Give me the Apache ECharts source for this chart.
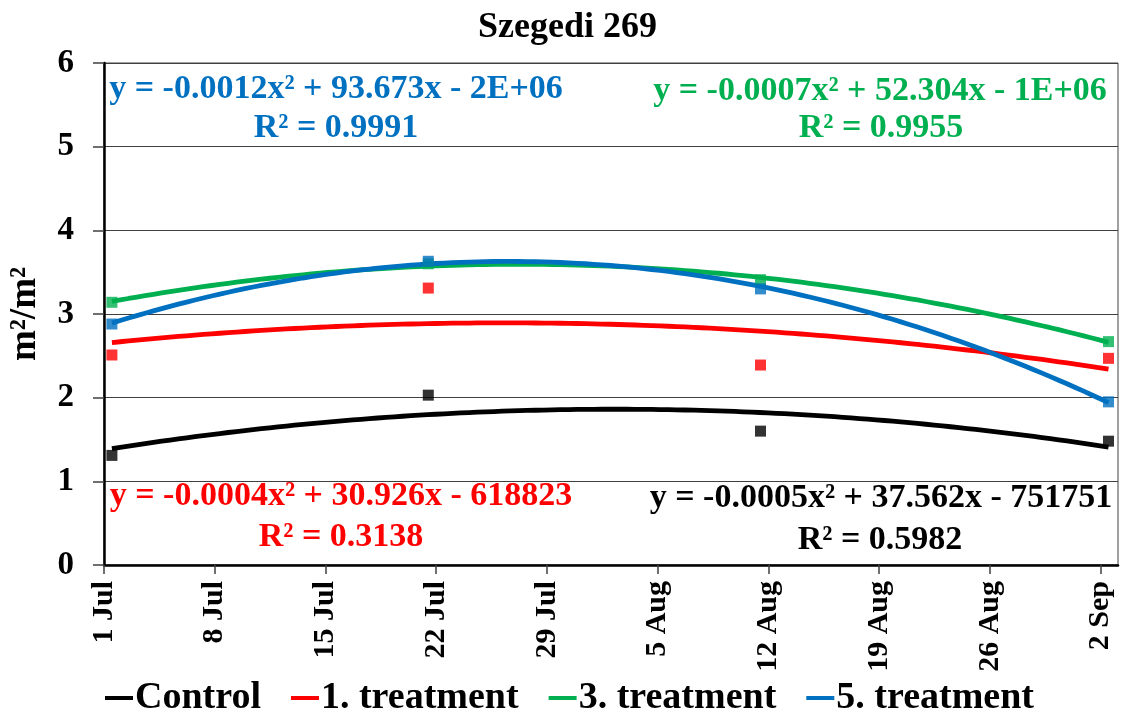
<!DOCTYPE html>
<html>
<head>
<meta charset="utf-8">
<script src="https://cdn.jsdelivr.net/npm/echarts@6/dist/echarts.min.js"></script>
<style>
  html, body { margin: 0; padding: 0; background: #fff; }
  #chart { width: 1135px; height: 713px; }
</style>
</head>
<body>
<div id="chart"></div>
<script>
// Sampling days, counted from 1 July
const sampleDays = [0, 20, 41, 63];
// Leaf area index (m²/m²) per treatment
const control = [1.31, 2.03, 1.60, 1.48];
const treatment1 = [2.51, 3.31, 2.39, 2.47];
const treatment3 = [3.14, 3.60, 3.41, 2.67];
const treatment5 = [2.88, 3.63, 3.30, 1.95];

// Weekly x-axis ticks (days from 1 July) and their labels
const tickDays = [0, 7, 14, 21, 28, 35, 42, 49, 56, 63];
const tickLabels = ['1 Jul', '8 Jul', '15 Jul', '22 Jul', '29 Jul', '5 Aug', '12 Aug', '19 Aug', '26 Aug', '2 Sep'];

const seriesNames = ['Control', '1. treatment', '3. treatment', '5. treatment'];
const seriesColors = ['#000000', '#FF0000', '#00B050', '#0070C0'];
const seriesValues = [control, treatment1, treatment3, treatment5];

// Trend-line labels (polynomial, order 2)
const equations = [
  'y = -0.0005x² + 37.562x - 751751',
  'y = -0.0004x² + 30.926x - 618823',
  'y = -0.0007x² + 52.304x - 1E+06',
  'y = -0.0012x² + 93.673x - 2E+06'
];
const rSquared = ['R² = 0.5982', 'R² = 0.3138', 'R² = 0.9955', 'R² = 0.9991'];

// Each date sits in the middle of its day slot on the date axis
const xPos = sampleDays.map(d => d + 0.5);

// Least-squares quadratic fit y = a + b x + c x²
function quadFit(xs, ys) {
  const S = [0, 0, 0, 0, 0], T = [0, 0, 0];
  for (let i = 0; i < xs.length; i++) {
    let p = 1;
    for (let k = 0; k < 5; k++) { S[k] += p; if (k < 3) T[k] += p * ys[i]; p *= xs[i]; }
  }
  const M = [[S[0], S[1], S[2], T[0]], [S[1], S[2], S[3], T[1]], [S[2], S[3], S[4], T[2]]];
  for (let i = 0; i < 3; i++) {
    for (let j = i + 1; j < 3; j++) {
      const f = M[j][i] / M[i][i];
      for (let k = i; k < 4; k++) M[j][k] -= f * M[i][k];
    }
  }
  const c = [0, 0, 0];
  for (let i = 2; i >= 0; i--) {
    let s = M[i][3];
    for (let k = i + 1; k < 3; k++) s -= M[i][k] * c[k];
    c[i] = s / M[i][i];
  }
  return c;
}

function trendPoints(values) {
  const c = quadFit(xPos, values);
  const x0 = xPos[0], x1 = xPos[xPos.length - 1];
  const pts = [];
  const n = 120;
  for (let i = 0; i <= n; i++) {
    const x = x0 + (x1 - x0) * i / n;
    pts.push([x, c[0] + c[1] * x + c[2] * x * x]);
  }
  return pts;
}

const FONT = '"Liberation Serif", "Times New Roman", serif';

const series = [];
seriesNames.forEach((name, i) => {
  series.push({
    name: name,
    type: 'line',
    data: trendPoints(seriesValues[i]),
    showSymbol: false,
    symbol: 'none',
    smooth: false,
    lineStyle: { color: seriesColors[i], width: 4.8 },
    itemStyle: { color: seriesColors[i] },
    z: 2 + i,
    silent: true
  });
});
seriesNames.forEach((name, i) => {
  series.push({
    name: name,
    type: 'scatter',
    data: xPos.map((x, k) => [x, seriesValues[i][k]]),
    symbol: 'rect',
    symbolSize: 11,
    itemStyle: { color: seriesColors[i] },
    z: 10 + i
  });
});

function eqText(text, x, y, color) {
  return {
    type: 'text',
    x: x, y: y,
    style: {
      text: text,
      fill: color,
      font: 'bold 34px ' + FONT,
      align: 'center',
      verticalAlign: 'middle'
    },
    z: 100
  };
}

const option = {
  backgroundColor: '#ffffff',
  animation: false,
  title: {
    text: 'Szegedi 269',
    left: 'center',
    top: 5,
    textStyle: { fontFamily: FONT, fontWeight: 'bold', fontSize: 36, color: '#000' }
  },
  grid: {
    left: 104, right: 17, top: 63, bottom: 148,
    outerBoundsMode: 'none',
    containLabel: false,
    show: true,
    borderColor: '#404040',
    borderWidth: 1
  },
  xAxis: {
    type: 'value',
    min: 0,
    max: 64.1,
    axisLine: { show: true, onZero: false, lineStyle: { color: '#000', width: 2.5 } },
    axisTick: {
      show: true, inside: false, length: 9,
      customValues: tickDays,
      lineStyle: { color: '#404040', width: 1.5 }
    },
    splitLine: { show: false },
    axisLabel: {
      customValues: tickDays,
      rotate: 90,
      margin: 16,
      fontFamily: FONT,
      fontWeight: 'bold',
      fontSize: 30,
      color: '#000',
      formatter: v => tickLabels[tickDays.indexOf(Math.round(v))] || ''
    }
  },
  yAxis: {
    type: 'value',
    min: 0, max: 6, interval: 1,
    name: 'm²/m²',
    nameLocation: 'middle',
    nameGap: 60,
    nameRotate: 90,
    nameMoveOverlap: false,
    nameTextStyle: { fontFamily: FONT, fontWeight: 'bold', fontSize: 37, color: '#000' },
    axisLine: { show: true, lineStyle: { color: '#000', width: 2.5 } },
    axisTick: { show: true, inside: false, length: 11, lineStyle: { color: '#404040', width: 1.5 } },
    splitLine: { show: true, lineStyle: { color: '#404040', width: 1 } },
    axisLabel: {
      margin: 30,
      fontFamily: FONT,
      fontWeight: 'bold',
      fontSize: 33,
      color: '#000'
    }
  },
  legend: {
    data: seriesNames.map(n => ({ name: n, icon: 'rect' })),
    left: 100,
    top: 674,
    itemWidth: 28,
    itemHeight: 4,
    itemGap: 30,
    textStyle: { fontFamily: FONT, fontWeight: 'bold', fontSize: 38, color: '#000', padding: [0, 0, 0, -3] }
  },
  graphic: [
    eqText(equations[3], 336, 89, seriesColors[3]),
    eqText(rSquared[3], 336, 128, seriesColors[3]),
    eqText(equations[2], 880, 91, seriesColors[2]),
    eqText(rSquared[2], 881, 128, seriesColors[2]),
    eqText(equations[1], 341, 496, seriesColors[1]),
    eqText(rSquared[1], 341, 537, seriesColors[1]),
    eqText(equations[0], 881, 498, seriesColors[0]),
    eqText(rSquared[0], 880, 540, seriesColors[0])
  ],
  series: series
};

const chart = echarts.init(document.getElementById('chart'), null, { renderer: 'canvas' });
chart.setOption(option);
</script>
</body>
</html>
